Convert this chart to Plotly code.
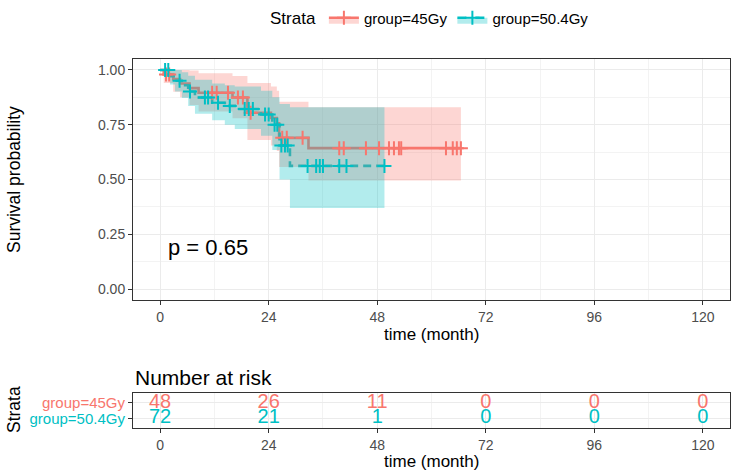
import numpy as np
import plotly.graph_objects as go

RED = "#F8766D"
TEAL = "#00BFC4"
RED_FILL = "rgba(248,118,109,0.3)"
TEAL_FILL = "rgba(0,191,196,0.3)"
FONT = "Liberation Sans, Arial, sans-serif"

# ---- Kaplan-Meier estimates ----
red_t = [0, 0.8, 2.9, 4.4, 6.5, 8.5, 16.0, 19.3, 24.5, 25.8, 26.3, 32.8, 66.5]
red_s = [1.0, 0.979, 0.958, 0.938, 0.917, 0.896, 0.874, 0.805, 0.781, 0.757, 0.690, 0.643, 0.643]
red_lo = [1.0, 0.940, 0.900, 0.875, 0.840, 0.810, 0.780, 0.680, 0.655, 0.630, 0.557, 0.495, 0.495]
red_hi = [1.0, 1.0, 1.0, 1.0, 0.998, 0.985, 0.972, 0.940, 0.925, 0.905, 0.855, 0.830, 0.830]
red_cens = [1.3, 2.0, 11.5, 12.5, 15.0, 17.2, 18.3, 20.0, 27.0, 28.0, 31.5, 39.6, 40.6,
            45.5, 48.4, 50.6, 51.7, 52.8, 53.3, 63.2, 64.7, 65.6, 66.5]

teal_t = [0, 2.2, 3.3, 4.8, 6.2, 7.7, 11.5, 14.3, 16.5, 22.3, 24.8, 26.4, 28.7, 49.6]
teal_s = [1.0, 0.972, 0.951, 0.930, 0.902, 0.874, 0.850, 0.836, 0.822, 0.797, 0.750, 0.655, 0.562, 0.562]
teal_lo = [1.0, 0.934, 0.902, 0.872, 0.835, 0.800, 0.770, 0.750, 0.730, 0.700, 0.635, 0.500, 0.370, 0.370]
teal_hi = [1.0, 1.0, 1.0, 0.990, 0.974, 0.955, 0.938, 0.930, 0.925, 0.905, 0.875, 0.845, 0.830, 0.830]
teal_cens = [1.1, 1.8, 4.3, 6.6, 9.9, 10.6, 12.8, 15.4, 18.7, 19.6, 20.5, 23.2, 24.0, 25.3,
             25.9, 26.8, 27.6, 28.2, 32.6, 34.5, 35.3, 36.0, 39.6, 41.2, 49.6]

groups = ["group=45Gy", "group=50.4Gy"]
pval_text = "p = 0.65"

# ---- number at risk table ----
risk_times = [0, 24, 48, 72, 96, 120]
risk_45 = [48, 26, 11, 0, 0, 0]
risk_504 = [72, 21, 1, 0, 0, 0]
x_ticks = [0, 24, 48, 72, 96, 120]
y_ticks = [0, 0.25, 0.5, 0.75, 1.0]
y_ticklabels = ["0.00", "0.25", "0.50", "0.75", "1.00"]


def surv_at(ts, ss, c):
    idx = np.searchsorted(np.asarray(ts), np.asarray(c), side="right") - 1
    return np.asarray(ss)[idx]


fig = go.Figure()

# step lines (drawn first, ribbons on top like ggplot)
fig.add_trace(go.Scatter(x=red_t, y=red_s, mode="lines", line=dict(color=RED, width=2.6, shape="hv"),
                         showlegend=False, hoverinfo="skip"))
fig.add_trace(go.Scatter(x=teal_t, y=teal_s, mode="lines",
                         line=dict(color=TEAL, width=2.6, shape="hv", dash="8px,5px"),
                         showlegend=False, hoverinfo="skip"))

# confidence ribbons
for t, lo, hi, fc in [(red_t, red_lo, red_hi, RED_FILL), (teal_t, teal_lo, teal_hi, TEAL_FILL)]:
    fig.add_trace(go.Scatter(x=t, y=lo, mode="lines", line=dict(width=0, shape="hv"),
                             showlegend=False, hoverinfo="skip"))
    fig.add_trace(go.Scatter(x=t, y=hi, mode="lines", line=dict(width=0, shape="hv"),
                             fill="tonexty", fillcolor=fc, showlegend=False, hoverinfo="skip"))

# censor marks
for cens, t, s, col in [(red_cens, red_t, red_s, RED), (teal_cens, teal_t, teal_s, TEAL)]:
    fig.add_trace(go.Scatter(x=cens, y=surv_at(t, s, cens), mode="markers",
                             marker=dict(symbol="cross-thin", size=10, line=dict(color=col, width=2)),
                             showlegend=False, hoverinfo="skip"))

# legend entries
for name, col, fc, dash in [(groups[0], RED, RED_FILL, "solid"), (groups[1], TEAL, TEAL_FILL, "dash")]:
    fig.add_trace(go.Scatter(x=[None], y=[None], mode="lines+markers", name=name,
                             line=dict(color=col, width=2.6, dash=dash), fill="toself", fillcolor=fc,
                             marker=dict(symbol="cross-thin", size=10, line=dict(color=col, width=2))))

# risk table text
fig.add_trace(go.Scatter(x=risk_times, y=[2] * len(risk_times), text=[str(v) for v in risk_45],
                         mode="text", textfont=dict(color=RED, size=20, family=FONT),
                         xaxis="x2", yaxis="y2", showlegend=False, hoverinfo="skip"))
fig.add_trace(go.Scatter(x=risk_times, y=[1] * len(risk_times), text=[str(v) for v in risk_504],
                         mode="text", textfont=dict(color=TEAL, size=20, family=FONT),
                         xaxis="x2", yaxis="y2", showlegend=False, hoverinfo="skip"))

W, H = 732, 472
xdom = [133 / W, 730 / W]
grid = "#EBEBEB"
axcommon = dict(showline=True, mirror=True, linecolor="#333333", linewidth=1, ticks="outside",
                ticklen=4, tickcolor="#333333", tickwidth=1, gridcolor=grid, gridwidth=1,
                zeroline=False, automargin=False, tickfont=dict(size=14, color="#4D4D4D", family=FONT))

fig.update_layout(
    width=W, height=H, margin=dict(l=0, r=0, t=0, b=0),
    plot_bgcolor="white", paper_bgcolor="white",
    font=dict(family=FONT, color="black"),
    xaxis=dict(domain=xdom, range=[-6, 126], tickvals=x_ticks, anchor="y",
               minor=dict(showgrid=True, dtick=12, tick0=0, gridcolor="#F3F3F3", gridwidth=0.6),
               **axcommon),
    yaxis=dict(domain=[172 / H, 413 / H], range=[-0.05, 1.05], tickvals=y_ticks, ticktext=y_ticklabels,
               anchor="x", minor=dict(showgrid=True, dtick=0.125, tick0=0, gridcolor="#F3F3F3", gridwidth=0.6),
               **axcommon),
    xaxis2=dict(domain=xdom, range=[-6, 126], tickvals=x_ticks, anchor="y2",
                minor=dict(showgrid=True, dtick=12, tick0=0, gridcolor="#F3F3F3", gridwidth=0.6),
                **axcommon),
    yaxis2=dict(domain=[44 / H, 79 / H], range=[0.4, 2.6], tickvals=[1, 2],
                ticktext=[f'<span style="color:{TEAL}">{groups[1]}</span>',
                          f'<span style="color:{RED}">{groups[0]}</span>'],
                anchor="x2", **{**axcommon, "tickfont": dict(size=15, family=FONT)}),
    legend=dict(orientation="h", x=431 / W, xanchor="center", y=1 - 18 / H, yanchor="middle",
                traceorder="normal",
                title=dict(text="Strata", font=dict(size=17, family=FONT)),
                font=dict(size=15, family=FONT), bgcolor="rgba(0,0,0,0)"),
    annotations=[
        dict(text=pval_text, x=1.3, y=0.19, xref="x", yref="y", xanchor="left", yanchor="middle",
             showarrow=False, font=dict(size=22, family=FONT)),
        dict(text="Survival probability", textangle=-90, x=14 / W, y=1 - 180 / H, xref="paper", yref="paper",
             xanchor="center", yanchor="middle", showarrow=False, font=dict(size=17.5, family=FONT)),
        dict(text="time (month)", x=431 / W, y=1 - 334 / H, xref="paper", yref="paper",
             xanchor="center", yanchor="middle", showarrow=False, font=dict(size=17, family=FONT)),
        dict(text="Number at risk", x=133 / W, y=1 - 377 / H, xref="paper", yref="paper",
             xanchor="left", yanchor="middle", showarrow=False, font=dict(size=21, family=FONT)),
        dict(text="Strata", textangle=-90, x=14 / W, y=1 - 410 / H, xref="paper", yref="paper",
             xanchor="center", yanchor="middle", showarrow=False, font=dict(size=17.5, family=FONT)),
        dict(text="time (month)", x=431 / W, y=1 - 461 / H, xref="paper", yref="paper",
             xanchor="center", yanchor="middle", showarrow=False, font=dict(size=17, family=FONT)),
    ],
)

fig.write_html("out.html", config={"displayModeBar": False},
               post_script="document.body.style.margin='0px';document.body.style.padding='0px';")
